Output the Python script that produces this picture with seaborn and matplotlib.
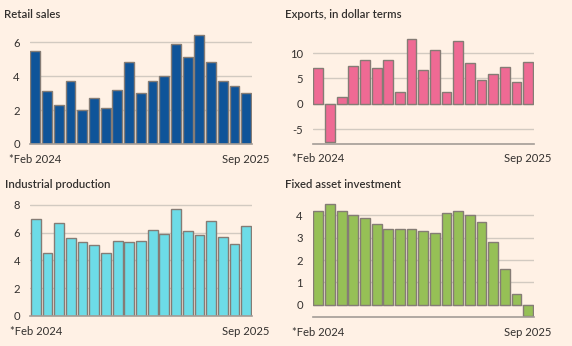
import numpy as np
import pandas as pd
import matplotlib
matplotlib.use("Agg")
import matplotlib.pyplot as plt
import seaborn as sns

# Monthly year-on-year growth, % (Jan-Feb combined releases)
months = ["Feb 2024", "Mar 2024", "Apr 2024", "May 2024", "Jun 2024", "Jul 2024",
          "Aug 2024", "Sep 2024", "Oct 2024", "Nov 2024", "Dec 2024", "Feb 2025",
          "Mar 2025", "Apr 2025", "May 2025", "Jun 2025", "Jul 2025", "Aug 2025",
          "Sep 2025"]
retail_sales = [5.5, 3.1, 2.3, 3.7, 2.0, 2.7, 2.1, 3.2, 4.8, 3.0, 3.7, 4.0,
                5.9, 5.1, 6.4, 4.8, 3.7, 3.4, 3.0]
exports = [7.1, -7.6, 1.4, 7.5, 8.6, 7.0, 8.7, 2.4, 12.8, 6.7, 10.7, 2.3,
           12.4, 8.1, 4.8, 5.8, 7.2, 4.4, 8.3]
industrial_production = [7.0, 4.5, 6.7, 5.6, 5.3, 5.1, 4.5, 5.4, 5.3, 5.4, 6.2, 5.9,
                         7.7, 6.1, 5.8, 6.8, 5.7, 5.2, 6.5]
fixed_asset_investment = [4.2, 4.5, 4.2, 4.0, 3.9, 3.6, 3.4, 3.4, 3.4, 3.3, 3.2, 4.1,
                          4.2, 4.0, 3.7, 2.8, 1.6, 0.5, -0.5]
first_label = "*Feb 2024"
last_label = "Sep 2025"

BG = "#FFF1E5"
TEXT = "#33302E"
GRID = "#D2CAC1"
AXIS = "#A39C96"
EDGE = "#857C75"

sns.set_theme(style="white")
plt.rcParams["font.family"] = ["Lato", "DejaVu Sans"]

W, H = 572, 346
fig = plt.figure(figsize=(W / 100, H / 100), dpi=100)
fig.patch.set_facecolor(BG)

panels = [
    # title, values, colour, (left, right, top, bottom px), ylim, yticks
    ("Retail sales", retail_sales, "#0F5499", (29.5, 252, 33, 144), (0, 6.53), [0, 2, 4, 6]),
    ("Exports, in dollar terms", exports, "#EF6A94", (312.5, 534, 33, 143.5), (-7.86, 14.0), [-5, 0, 5, 10]),
    ("Industrial production", industrial_production, "#6DDCE7", (30, 252, 203, 316), (0, 8.13), [0, 2, 4, 6, 8]),
    ("Fixed asset investment", fixed_asset_investment, "#96C056", (312.5, 534, 203, 317), (-0.55, 4.56), [0, 1, 2, 3, 4]),
]

for title, values, colour, (l, r, t, b), ylim, yticks in panels:
    ax = fig.add_axes([l / W, 1 - b / H, (r - l) / W, (b - t) / H])
    ax.set_facecolor(BG)
    df = pd.DataFrame({"month": months, "value": values})
    sns.barplot(data=df, x="month", y="value", color=colour, width=0.84,
                edgecolor=EDGE, linewidth=1.0, saturation=1, ax=ax, zorder=3)
    ax.set_xlim(-0.5, len(months) - 0.5)
    ax.set_ylim(*ylim)
    ax.set_yticks(yticks)
    ax.set_yticklabels([f"{v:g}" if v >= 0 else f"-{abs(v):g}" for v in yticks])
    for v in yticks:
        if v != ylim[0]:
            ax.axhline(v, color=GRID, lw=1.0, zorder=1)
    for s in ["top", "right", "left"]:
        ax.spines[s].set_visible(False)
    ax.spines["bottom"].set_color(AXIS)
    ax.spines["bottom"].set_linewidth(1.2)
    ax.spines["bottom"].set_zorder(4)
    ax.set_xticks([0, len(months) - 1])
    ax.set_xticklabels([first_label, last_label])
    ax.tick_params(axis="x", length=5, width=1, color=AXIS, pad=2,
                   labelsize=8.1, labelcolor=TEXT)
    ax.tick_params(axis="y", length=0, pad=7, labelsize=8.1, labelcolor=TEXT)
    ax.set_xlabel("")
    ax.set_ylabel("")
    ax.grid(False)
    fig.text((l - 25 if l < 100 else l - 27.5) / W, 1 - (t - 18) / H, title,
             fontsize=8.2, fontweight="semibold", color=TEXT, va="center", ha="left")

fig.savefig("out.png", dpi=100, facecolor=BG)
